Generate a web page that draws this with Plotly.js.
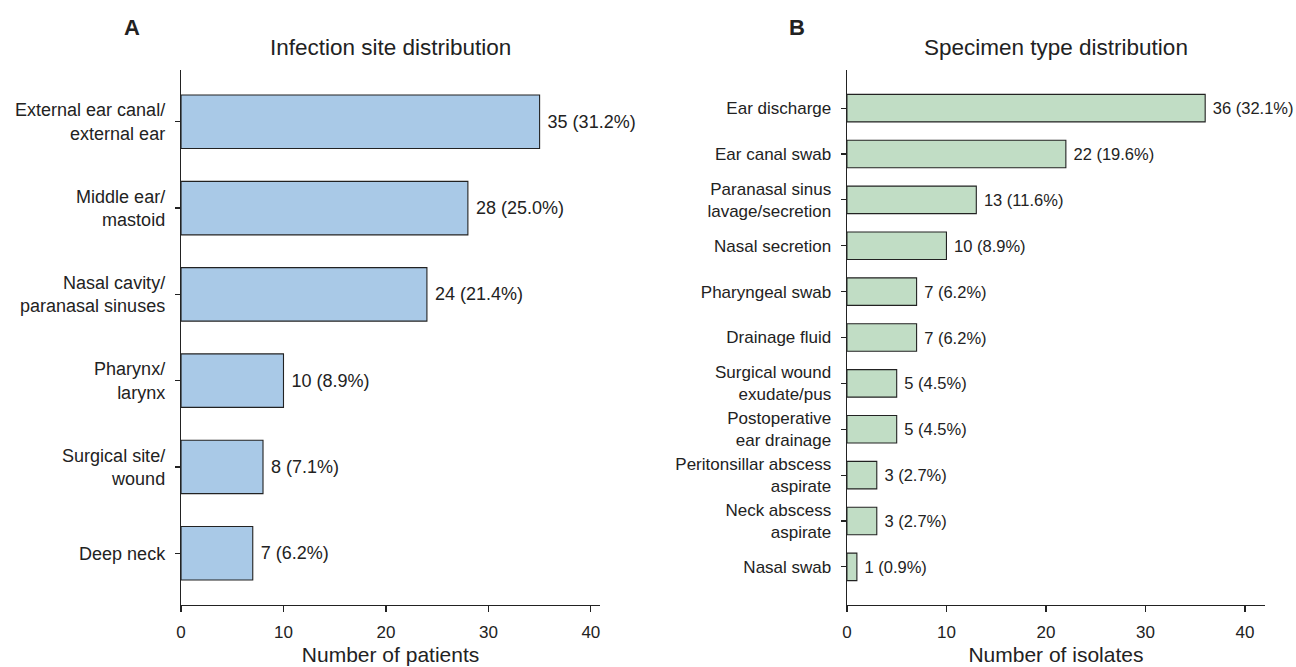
<!DOCTYPE html>
<html><head><meta charset="utf-8">
<script src="https://cdn.plot.ly/plotly-3.0.1.min.js"></script>
<style>body{margin:0}#c{width:1296px;height:667px}</style></head>
<body><div id="c"></div>
<script>
const siteLabels = ["External ear canal/<br>external ear","Middle ear/<br>mastoid","Nasal cavity/<br>paranasal sinuses","Pharynx/<br>larynx","Surgical site/<br>wound","Deep neck"];
const siteCounts = [35,28,24,10,8,7];
const sitePct = ["31.2","25.0","21.4","8.9","7.1","6.2"];
const specLabels = ["Ear discharge","Ear canal swab","Paranasal sinus<br>lavage/secretion","Nasal secretion","Pharyngeal swab","Drainage fluid","Surgical wound<br>exudate/pus","Postoperative<br>ear drainage","Peritonsillar abscess<br>aspirate","Neck abscess<br>aspirate","Nasal swab"];
const specCounts = [36,22,13,10,7,7,5,5,3,3,1];
const specPct = ["32.1","19.6","11.6","8.9","6.2","6.2","4.5","4.5","2.7","2.7","0.9"];

const FONT = "Liberation Sans, Arial, sans-serif";
const INK = "#222";
const traces = [
 {type:'bar', orientation:'h', x:siteCounts, y:siteLabels.map((_,i)=>i), width:0.62,
  marker:{color:'#a9c9e7', line:{color:INK,width:1.1}},
  text:siteCounts.map((v,i)=>' '+v+' ('+sitePct[i]+'%)'), textposition:'outside', constraintext:'none', cliponaxis:false,
  textfont:{size:18,color:INK,family:FONT}, xaxis:'x', yaxis:'y', hoverinfo:'none'},
 {type:'bar', orientation:'h', x:specCounts, y:specLabels.map((_,i)=>i), width:0.6,
  marker:{color:'#c1ddc5', line:{color:INK,width:1.1}},
  text:specCounts.map((v,i)=>' '+v+' ('+specPct[i]+'%)'), textposition:'outside', constraintext:'none', cliponaxis:false,
  textfont:{size:16.5,color:INK,family:FONT}, xaxis:'x2', yaxis:'y2', hoverinfo:'none'}
];
const xa = (dom, rng, title, anchor)=>({domain:dom, range:rng, anchor:anchor, showgrid:false, zeroline:false,
  showline:true, linecolor:INK, linewidth:1.3, ticks:'outside', ticklen:6, tickwidth:1.2, tickcolor:INK,
  tickvals:[0,10,20,30,40], tickfont:{size:17,color:INK,family:FONT}, ticklabelstandoff:5,
  title:{text:title, font:{size:21,color:INK,family:FONT}, standoff:6}});
const ya = (rng, vals, text, anchor, size)=>({domain:[0.093,0.895], range:rng, anchor:anchor, showgrid:false, zeroline:false,
  showline:true, linecolor:INK, linewidth:1.3, ticks:'outside', ticklen:5, tickwidth:1.2, tickcolor:INK,
  tickvals:vals, ticktext:text, tickfont:{size:size,color:INK,family:FONT}, ticklabelstandoff:6});
const layout = {
  width:1296, height:667, margin:{l:0,r:0,t:0,b:0}, paper_bgcolor:'white', plot_bgcolor:'white',
  showlegend:false, font:{family:FONT,color:INK},
  xaxis: xa([0.1397,0.463],[0,40.9],'Number of patients','y'),
  yaxis: ya([5.6,-0.6], siteLabels.map((_,i)=>i), siteLabels, 'x', 18),
  xaxis2: xa([0.6535,0.976],[0,42],'Number of isolates','y2'),
  yaxis2: ya([10.83,-0.83], specLabels.map((_,i)=>i), specLabels, 'x2', 17),
  annotations:[
    {text:'<b>A</b>', x:132, y:27, showarrow:false, font:{size:22,color:INK}},
    {text:'<b>B</b>', x:797, y:27, showarrow:false, font:{size:22,color:INK}},
    {text:'Infection site distribution', x:390, y:47, showarrow:false, font:{size:22.5,color:INK}},
    {text:'Specimen type distribution', x:1056, y:47, showarrow:false, font:{size:22.5,color:INK}}
  ].map(a=>Object.assign(a,{xref:'paper',yref:'paper',x:a.x/1296,y:1-a.y/667,xanchor:'center',yanchor:'middle'}))
};
Plotly.newPlot('c', traces, layout, {staticPlot:true});
</script></body></html>
